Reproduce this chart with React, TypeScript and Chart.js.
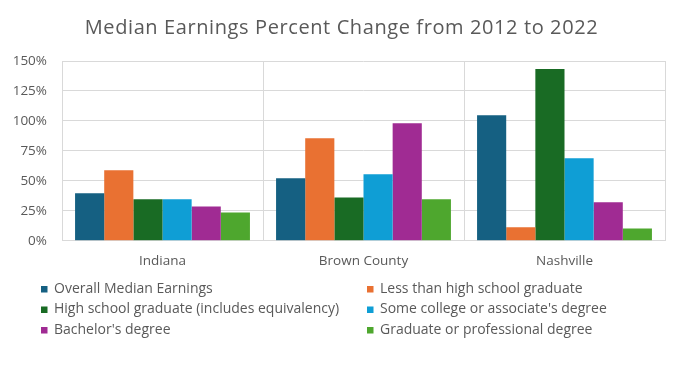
import React, { useEffect, useRef } from "react";
import { Chart, registerables } from "chart.js";

Chart.register(...registerables);

const categories = ["Indiana", "Brown County", "Nashville"];
const seriesNames = [
  "Overall Median Earnings",
  "Less than high school graduate",
  "High school graduate (includes equivalency)",
  "Some college or associate's degree",
  "Bachelor's degree",
  "Graduate or professional degree",
];
const overall = [39.6, 52.1, 104.8];
const lessThanHS = [58.8, 85.6, 11.2];
const hsGrad = [34.6, 36.2, 143.3];
const someCollege = [34.6, 55.5, 68.9];
const bachelors = [28.7, 98.1, 32.1];
const graduate = [23.7, 34.6, 10.3];
const yTicks = [0, 25, 50, 75, 100, 125, 150];
const titleText = "Median Earnings Percent Change from 2012 to 2022";

const colors = ["#156082", "#E97132", "#196B24", "#0F9ED5", "#A02B93", "#4EA72E"];
const FONT = "'Open Sans', sans-serif";
const TEXT = "#595959";

const titleLegendPlugin = {
  id: "titleLegend",
  afterDraw(chart: any) {
    const ctx = chart.ctx;
    ctx.save();
    // title
    ctx.font = `20px ${FONT}`;
    (ctx as any).letterSpacing = "0.6px";
    ctx.fillStyle = TEXT;
    ctx.textAlign = "center";
    ctx.textBaseline = "alphabetic";
    ctx.fillText(titleText, chart.width / 2, 34);
    (ctx as any).letterSpacing = "0px";
    // legend
    const cols = [41, 367];
    const rows = [289, 309.5, 330];
    ctx.font = `14px ${FONT}`;
    ctx.textAlign = "left";
    ctx.textBaseline = "middle";
    chart.data.datasets.forEach((ds: any, i: number) => {
      const x = cols[i % 2];
      const y = rows[Math.floor(i / 2)];
      ctx.fillStyle = ds.backgroundColor;
      ctx.fillRect(x, y - 3, 6.5, 6.5);
      ctx.fillStyle = TEXT;
      ctx.fillText(ds.label, x + 13, y);
    });
    ctx.restore();
  },
};

export default function App() {
  const ref = useRef<HTMLCanvasElement>(null);
  useEffect(() => {
    document.body.style.margin = "0";
    const values = [overall, lessThanHS, hsGrad, someCollege, bachelors, graduate];
    const chart = new Chart(ref.current!, {
      type: "bar",
      data: {
        labels: categories,
        datasets: seriesNames.map((name, i) => ({
          label: name,
          data: values[i],
          backgroundColor: colors[i],
          borderWidth: 0,
          categoryPercentage: 0.87,
          barPercentage: 1.0,
        })),
      },
      options: {
        animation: false,
        responsive: false,
        maintainAspectRatio: false,
        layout: { padding: { left: 9, right: 18, top: 61, bottom: 90 } },
        plugins: {
          legend: { display: false },
          tooltip: { enabled: false },
          title: { display: false },
        },
        scales: {
          x: {
            grid: { color: "#d9d9d9", drawTicks: false, offset: true },
            border: { color: "#d9d9d9" },
            ticks: { color: TEXT, font: { family: FONT, size: 13.5 }, padding: 12 },
          },
          y: {
            min: 0,
            max: 150,
            afterBuildTicks: (s: any) => {
              s.ticks = yTicks.map((v) => ({ value: v }));
            },
            afterFit: (s: any) => {
              s.width = 53;
            },
            grid: { color: "#d9d9d9", drawTicks: false },
            border: { display: false },
            ticks: {
              color: TEXT,
              font: { family: FONT, size: 13.5 },
              padding: 15,
              callback: (v: any) => `${v}%`,
            },
          },
        },
      },
      plugins: [titleLegendPlugin],
    });
    return () => chart.destroy();
  }, []);
  return (
    <div style={{ width: 683, height: 371 }}>
      <canvas ref={ref} width={683} height={371} style={{ display: "block" }} />
    </div>
  );
}
